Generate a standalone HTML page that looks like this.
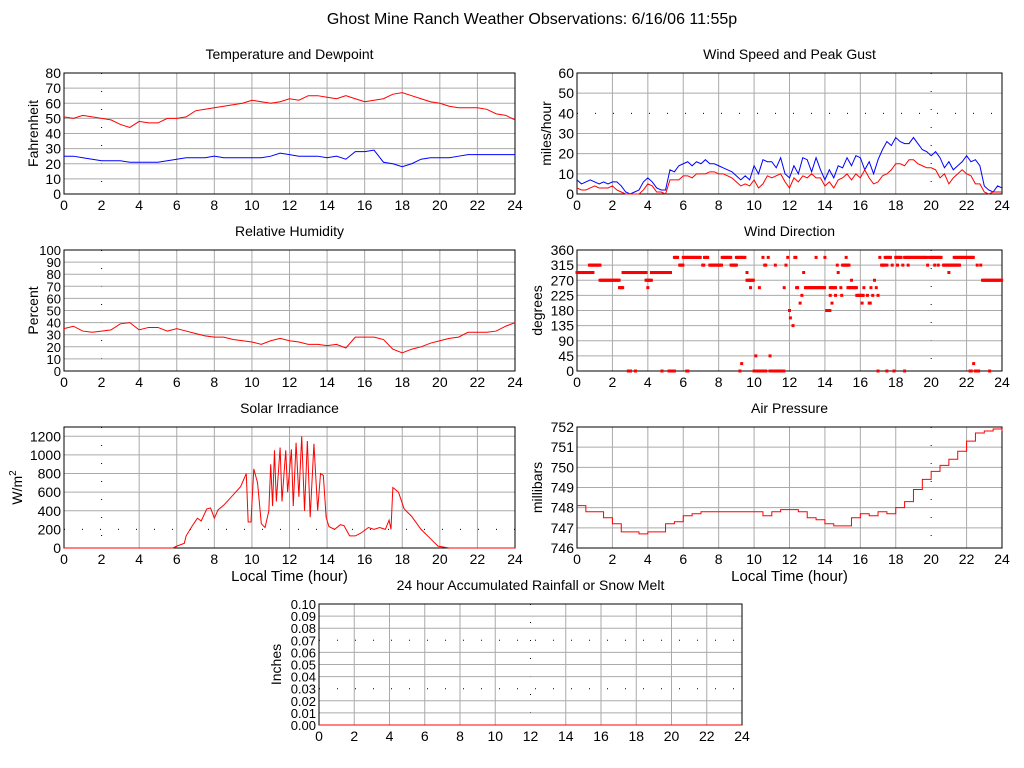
<!DOCTYPE html>
<html><head><meta charset="utf-8"><style>
html,body{margin:0;padding:0;background:#fff}
svg{display:block;font-family:"Liberation Sans",sans-serif}
</style></head><body>
<svg id="chart" width="1024" height="768" viewBox="0 0 1024 768" xmlns="http://www.w3.org/2000/svg">
<text x="532" y="24" font-size="16" text-anchor="middle">Ghost Mine Ranch Weather Observations: 6/16/06 11:55p</text>
</svg>
<script>
// ---- data ----
const halfHours = [0,0.5,1,1.5,2,2.5,3,3.5,4,4.5,5,5.5,6,6.5,7,7.5,8,8.5,9,9.5,10,10.5,11,11.5,12,12.5,13,13.5,14,14.5,15,15.5,16,16.5,17,17.5,18,18.5,19,19.5,20,20.5,21,21.5,22,22.5,23,23.5,24];
const tempValues = [51,50,52,51,50,49,46,44,48,47,47,50,50,51,55,56,57,58,59,60,62,61,60,61,63,62,65,65,64,63,65,63,61,62,63,66,67,65,63,61,60,58,57,57,57,56,53,52,49];
const dewValues = [25,25,24,23,22,22,22,21,21,21,21,22,23,24,24,24,25,24,24,24,24,24,25,27,26,25,25,25,24,25,23,28,28,29,21,20,18,20,23,24,24,24,25,26,26,26,26,26,26];
const rhValues = [35,37,33,32,33,34,39,40,34,36,36,33,35,33,31,29,28,28,26,25,24,22,25,27,25,24,22,22,21,22,19,28,28,28,26,18,15,18,20,23,25,27,28,32,32,32,33,37,40];
const pressValues = [748.1,747.8,747.8,747.5,747.2,746.8,746.8,746.7,746.8,746.8,747.2,747.3,747.6,747.7,747.8,747.8,747.8,747.8,747.8,747.8,747.8,747.6,747.8,747.9,747.9,747.8,747.5,747.4,747.2,747.1,747.1,747.5,747.7,747.6,747.8,747.7,748.0,748.3,748.9,749.4,749.8,750.1,750.4,750.8,751.3,751.7,751.8,751.9,751.8];
const windAvg = [3,2,2,3,4,3,3,3,4,2,1,0,0,0,0,2,5,4,1,1,0,7,7,7,9,9,8,10,10,10,11,11,10,10,9,8,6,4,5,4,7,3,5,9,8,9,10,6,3,8,6,9,8,10,8,8,4,6,3,7,8,10,7,10,8,12,8,5,6,9,10,12,15,15,14,17,17,15,14,13,13,12,8,10,5,8,10,12,10,9,5,5,1,0,1,1,1];
const windGust = [7,5,6,7,6,5,6,5,6,6,4,1,0,1,2,6,8,6,3,2,2,12,11,14,15,16,14,16,15,17,15,15,14,13,12,11,9,7,9,7,14,10,17,16,16,13,18,10,8,14,10,18,17,11,18,12,7,12,8,14,13,18,14,19,18,12,16,10,17,22,26,24,28,26,25,25,28,25,22,21,19,21,18,13,16,12,14,16,19,16,17,14,4,2,1,4,3];
const solarTimes = [0,5.8,6,6.4,6.5,6.8,7.1,7.3,7.6,7.8,8,8.2,8.5,9,9.4,9.7,9.8,9.95,10.1,10.3,10.5,10.7,10.9,11,11.1,11.2,11.3,11.5,11.6,11.8,11.9,12.1,12.2,12.35,12.5,12.65,12.8,12.95,13.1,13.3,13.5,13.65,13.8,13.95,14.1,14.4,14.7,14.9,15.2,15.5,15.8,16.2,16.5,16.8,17.1,17.3,17.4,17.5,17.8,18.1,18.5,19,19.5,19.9,20.5,24];
const solarValues = [0,0,20,50,130,230,320,290,420,430,320,410,460,570,660,800,280,280,850,700,260,220,400,900,450,1050,500,1080,500,1050,600,1060,450,1130,550,1200,400,1150,330,1120,400,800,780,330,230,200,250,240,130,130,160,220,200,220,200,300,200,650,600,420,340,200,100,20,0,0];
const rainTimes = [0,24];
const rainValues = [0,0];
// wind direction runs: [start hour, end hour, degrees]
const dirRuns = [[0,0.9,293],[0.7,1.3,315],[1.3,2.4,270],[2.4,2.6,248],[2.6,3.0,293],[2.9,3.05,0],[3.3,3.3,0],[3.0,3.9,293],[3.9,4.2,270],[4.0,4.0,248],[4.2,5.3,293],[4.8,4.8,0],[5.2,5.5,0],[5.5,5.7,338],[5.8,6.0,315],[6.0,7.0,338],[6.2,6.3,0],[7.1,7.2,315],[7.2,7.4,338],[7.5,8.2,315],[8.2,8.7,338],[8.7,9.0,315],[9.0,9.5,338],[9.6,9.6,293],[9.6,10.0,270],[9.8,9.8,248],[9.2,9.2,0],[9.3,9.3,22],[10.0,10.7,0],[10.1,10.1,45],[10.3,10.3,248],[10.5,10.5,338],[10.6,10.7,315],[10.8,10.8,338],[10.9,11.7,0],[10.9,10.9,45],[11.2,11.2,315],[11.7,11.7,248],[11.8,11.8,315],[11.9,11.9,338],[12.0,12.0,180],[12.05,12.1,158],[12.2,12.2,135],[12.3,12.4,338],[12.4,12.5,248],[12.6,12.65,202],[12.7,12.7,225],[12.8,12.8,293],[12.9,14.0,248],[13.5,13.5,338],[14.0,14.0,338],[14.1,14.3,180],[14.3,14.6,248],[14.3,14.3,225],[14.4,14.4,202],[14.6,14.6,225],[14.7,14.7,315],[14.75,14.75,293],[14.9,14.9,248],[14.95,14.95,225],[15.0,15.4,315],[15.2,15.2,338],[15.3,15.8,248],[15.5,15.5,270],[15.8,16.2,225],[16.1,16.1,202],[16.2,16.2,248],[16.4,16.4,225],[16.5,16.6,202],[16.6,16.6,248],[16.7,16.7,225],[16.8,16.8,270],[16.9,16.9,248],[17.0,17.0,225],[17.0,17.0,0],[17.1,17.1,338],[17.2,17.4,315],[17.4,17.7,338],[17.5,17.5,315],[17.5,17.5,0],[17.8,17.8,315],[17.9,17.9,0],[18.0,18.3,338],[18.1,18.1,315],[18.4,18.4,315],[18.5,18.5,0],[18.5,19.8,338],[18.7,18.7,315],[19.8,19.8,315],[19.9,20.6,338],[20.2,20.2,315],[20.4,20.4,315],[20.7,21.6,315],[21.0,21.0,293],[21.3,22.4,338],[22.2,22.3,0],[22.4,22.4,22],[22.5,22.7,0],[22.6,22.6,315],[22.8,22.8,315],[22.9,24,270],[23.3,23.3,0]];
const hourTicks = [0,2,4,6,8,10,12,14,16,18,20,22,24];
</script>
<script>
const NS='http://www.w3.org/2000/svg';
const svg=document.getElementById('chart');
function mk(tag,attrs,parent){const e=document.createElementNS(NS,tag);for(const k in attrs)e.setAttribute(k,attrs[k]);(parent||svg).appendChild(e);return e;}

function panel(cfg){
  const g=mk('g',{});
  
  
  const L=cfg.x0,R=cfg.x1,T=cfg.y0,B=cfg.y1;
  const sx=t=>L+(t/24)*(R-L);
  const sy=v=>B-(v-cfg.min)/(cfg.max-cfg.min)*(B-T);
  for(const h of hourTicks){ if(h===0||h===24)continue;
    const ln=mk('line',{x1:sx(h),x2:sx(h),y1:T,y2:B,stroke:(h===cfg.dotX)?'#000':'#aaa','stroke-width':1,'stroke-dasharray':(h===cfg.dotX)?'1,17':'none'},g);
    
    
  }
  for(let v=cfg.min+cfg.gstep; v<cfg.max-1e-9; v+=cfg.gstep){
    const isDot=cfg.dotY.some(d=>Math.abs(d-v)<1e-9);
    const ln=mk('line',{x1:L,x2:R,y1:sy(v),y2:sy(v),stroke:isDot?'#000':'#aaa','stroke-width':1,'stroke-dasharray':isDot?'1,17':'none'},g);
    
    
  }
  const fr=mk('rect',{x:L,y:T,width:R-L,height:B-T,fill:'none',stroke:'#000','stroke-width':1},g);
  
  
  for(const h of hourTicks){
    const t=mk('text',{x:sx(h),y:B+16,'font-size':14,'text-anchor':'middle'},g);t.textContent=h;
    
    
  }
  for(const v of cfg.yTicks){
    const t=mk('text',{x:L-3,y:sy(v)+5,'font-size':cfg.yfs||14,'text-anchor':'end'},g);t.textContent=cfg.fmt?cfg.fmt(v):v;
    
    
  }
  const ti=mk('text',{x:(L+R)/2,y:T-14,'font-size':14,'text-anchor':'middle'},g);ti.textContent=cfg.title;
  
  
  const yl=mk('text',{x:0,y:0,'font-size':14,'text-anchor':'middle',transform:`translate(${cfg.ylx},${(T+B)/2}) rotate(-90)`},g);
  if(cfg.ylabelHTML){yl.innerHTML=cfg.ylabelHTML;}else yl.textContent=cfg.ylabel;
  
  
  if(cfg.xlabel){const xl=mk('text',{x:(L+R)/2,y:B+33,'font-size':15,'text-anchor':'middle'},g);xl.textContent='Local Time (hour)';
    
    }
  return {g,sx,sy};
}
function line(p,times,vals,color,name,step){
  let d='';
  for(let i=0;i<vals.length;i++){
    const x=p.sx(times[i]),y=p.sy(vals[i]);
    if(i===0)d+=`M${x},${y}`;
    else if(step)d+=`H${x}V${y}`;
    else d+=`L${x},${y}`;
  }
  const e=mk('path',{d,fill:'none',stroke:color,'stroke-width':1},p.g);
  
  
}
const quarterHours=windAvg.map((_,i)=>i*0.25);

const p1=panel({name:'temperature',x0:64,x1:515,y0:73,y1:194,min:0,max:80,gstep:10,yTicks:[0,10,20,30,40,50,60,70,80],dotX:2,dotY:[],title:'Temperature and Dewpoint',ylabel:'Fahrenheit',ylx:38});
line(p1,halfHours,tempValues,'#f00','temperature-line');
line(p1,halfHours,dewValues,'#00f','dewpoint-line');

const p2=panel({name:'wind-speed',x0:577,x1:1002,y0:73,y1:194,min:0,max:60,gstep:10,yTicks:[0,10,20,30,40,50,60],dotX:20,dotY:[40],title:'Wind Speed and Peak Gust',ylabel:'miles/hour',ylx:551});
line(p2,quarterHours,windGust,'#00f','peak-gust-line');
line(p2,quarterHours,windAvg,'#f00','wind-speed-line');

const p3=panel({name:'humidity',x0:64,x1:515,y0:250,y1:371,min:0,max:100,gstep:10,yTicks:[0,10,20,30,40,50,60,70,80,90,100],dotX:2,dotY:[],title:'Relative Humidity',ylabel:'Percent',ylx:38,yfs:13});
line(p3,halfHours,rhValues,'#f00','humidity-line');

const p4=panel({name:'wind-direction',x0:577,x1:1002,y0:250,y1:371,min:0,max:360,gstep:45,yTicks:[0,45,90,135,180,225,270,315,360],dotX:20,dotY:[],title:'Wind Direction',ylabel:'degrees',ylx:542});
for(const r of dirRuns){
  for(let t=r[0]; t<=r[1]+1e-9; t+=0.06){
    const e=mk('rect',{x:p4.sx(t)-1.5,y:p4.sy(r[2])-1.5,width:3,height:3,fill:'#f00'},p4.g);
    
    
  }
}

const p5=panel({name:'solar',x0:64,x1:515,y0:427,y1:548,min:0,max:1300,gstep:200,yTicks:[0,200,400,600,800,1000,1200],dotX:2,dotY:[200],title:'Solar Irradiance',ylabelHTML:'W/m<tspan dy="-6" font-size="10">2</tspan>',ylx:22,xlabel:true});
line(p5,solarTimes,solarValues,'#f00','solar-line');

const p6=panel({name:'pressure',x0:577,x1:1002,y0:427,y1:548,min:746,max:752,gstep:1,yTicks:[746,747,748,749,750,751,752],dotX:20,dotY:[],title:'Air Pressure',ylabel:'millibars',ylx:542,xlabel:true});
line(p6,halfHours,pressValues,'#f00','pressure-line',true);

const p7=panel({name:'rainfall',x0:319,x1:742,y0:604,y1:725,min:0,max:0.1,gstep:0.01,yTicks:[0,0.01,0.02,0.03,0.04,0.05,0.06,0.07,0.08,0.09,0.1],fmt:v=>v.toFixed(2),dotX:12,dotY:[0.03,0.07],title:'24 hour Accumulated Rainfall or Snow Melt',ylabel:'Inches',ylx:281,yfs:13});
line(p7,rainTimes,rainValues,'#f00','rainfall-line');
</script>
</body></html>
